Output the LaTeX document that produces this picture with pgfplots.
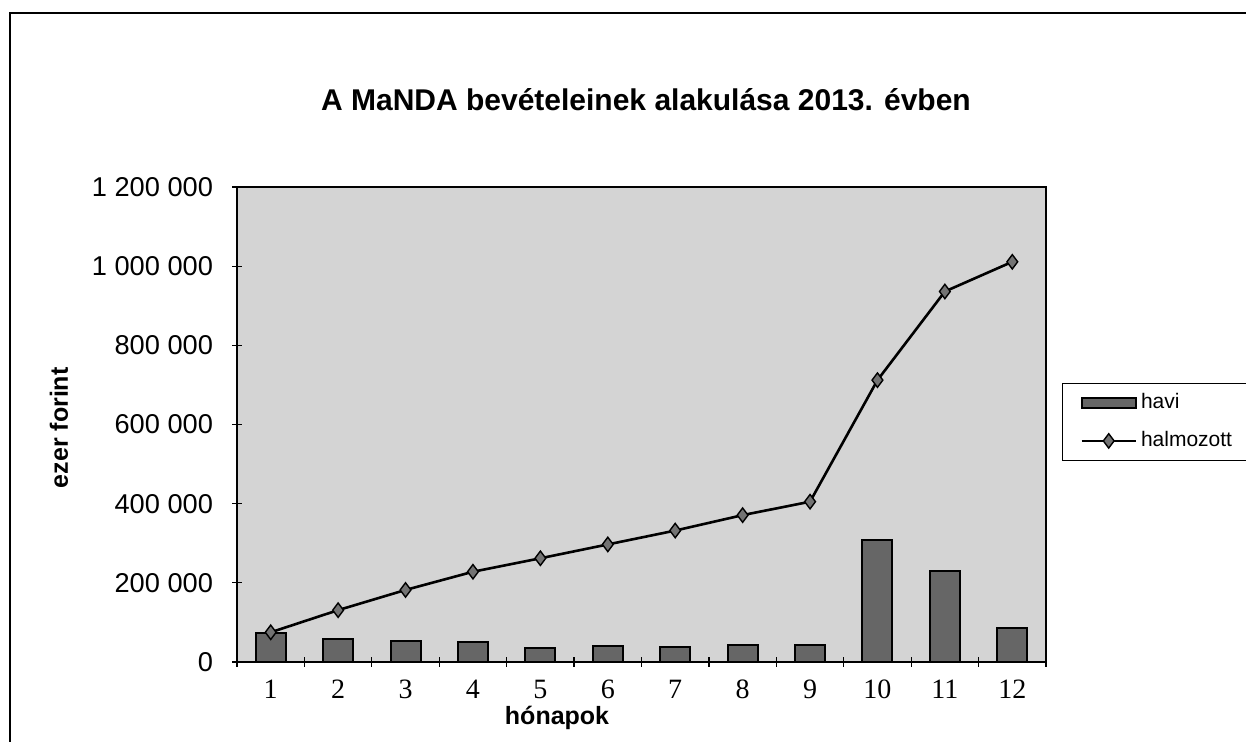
\documentclass[border=0pt]{standalone}
\usepackage{fontspec}
\setmainfont{Liberation Sans}
\newfontfamily\serifnum{Liberation Serif}
\usepackage{pgfplots}
\pgfplotsset{compat=1.18}
\pgfplotsset{
  barleg/.style={legend image code/.code={\draw[##1] (0pt,-2.5pt) rectangle (27pt,2.5pt);}},
  lineleg/.style={legend image code/.code={\draw[##1, mark repeat=2, mark phase=2] plot coordinates {(0pt,0pt) (13.5pt,0pt) (27pt,0pt)};}},
}
\begin{document}
\begin{tikzpicture}
\useasboundingbox (0,0) rectangle (623pt,371pt);
\draw[line width=0.8pt] (5pt,0) -- (5pt,364.5pt) -- (623pt,364.5pt);
\node[font=\bfseries\fontsize{15}{17}\selectfont] at (323pt,321pt) {A MaNDA bevételeinek alakulása 2013. évben};
\begin{axis}[
  at={(118.5pt,40pt)}, anchor=south west,
  width=404.5pt, height=237.5pt, scale only axis,
  xmin=0.5, xmax=12.5, ymin=0, ymax=1200000,
  axis background/.style={fill=black!17},
  xtick={1,2,3,4,5,6,7,8,9,10,11,12},
  xticklabels={1,2,3,4,5,6,7,8,9,10,11,12},
  major x tick style={draw=none},
  minor xtick={0.5,1.5,2.5,3.5,4.5,5.5,6.5,7.5,8.5,9.5,10.5,11.5,12.5},
  ytick={0,200000,400000,600000,800000,1000000,1200000},
  scaled y ticks=false,
  tick align=center, xtick pos=bottom, ytick pos=left,
  major tick length=5pt, minor tick length=5pt,
  tick style={black, line width=0.6pt},
  axis line style={line width=0.8pt},
  xticklabel style={font=\serifnum\fontsize{14}{14}\selectfont, yshift=-3pt},
  yticklabel style={font=\fontsize{13.6}{15}\selectfont, /pgf/number format/.cd, fixed, 1000 sep={\ }, assume math mode=true},
  yticklabel shift=6pt,
  xlabel={hónapok},
  xlabel style={font=\bfseries\fontsize{12.5}{13}\selectfont, at={(axis description cs:0.3956,0)}, anchor=center, yshift=-28pt},
  ylabel={ezer forint},
  ylabel style={font=\bfseries\fontsize{12.5}{13}\selectfont, at={(axis description cs:0,0.493)}, anchor=center, yshift=89pt},
  legend style={at={(1.0198,0.587)}, anchor=north west, draw=black, fill=white,
    font=\fontsize{10.5}{12}\selectfont, row sep=6pt, inner xsep=9pt, inner ysep=3pt,
    cells={anchor=west}, legend cell align=left},
]
\addplot[ybar, bar width=15pt, fill=black!60, draw=black, line width=1pt, barleg]
  coordinates {(1,72000) (2,59000) (3,54000) (4,50000) (5,36000) (6,40000)
               (7,38000) (8,44000) (9,44000) (10,307000) (11,229000) (12,85000)};
\addlegendentry{havi}
\addplot[black, line width=1.3pt, mark=diamond*, mark size=3.6pt,
  mark options={fill=black!55, draw=black, line width=0.7pt}, lineleg]
  coordinates {(1,75000) (2,131000) (3,182000) (4,228000) (5,262000) (6,297000)
               (7,332000) (8,371000) (9,405000) (10,712000) (11,936000) (12,1011000)};
\addlegendentry{halmozott}
\end{axis}
\end{tikzpicture}
\end{document}
